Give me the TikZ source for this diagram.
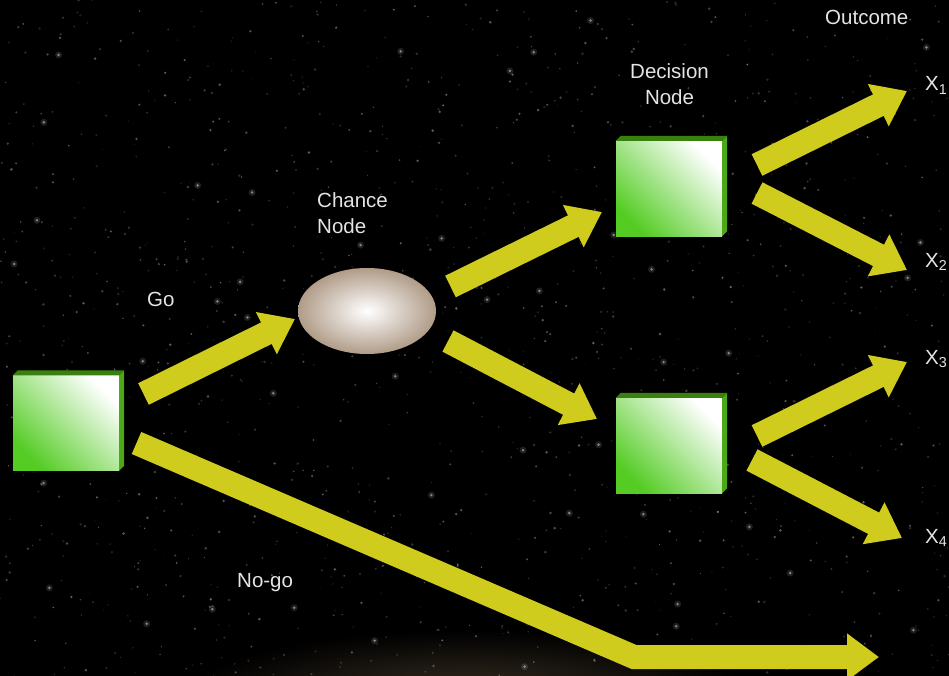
\documentclass[tikz,border=0pt]{standalone}
\usepackage{fontspec}
\setmainfont{Liberation Sans}
\usetikzlibrary{arrows.meta,shapes.geometric}

\definecolor{arrowyellow}{RGB}{208,204,30}
\definecolor{boxgreen}{RGB}{84,204,36}
\definecolor{boxmid}{RGB}{200,238,190}
\definecolor{boxtopgreen}{RGB}{58,128,14}
\definecolor{boxsidegreen}{RGB}{76,168,22}
\definecolor{chancetan}{RGB}{176,156,136}
\definecolor{labelgray}{RGB}{228,228,228}
\definecolor{galaxybrown}{RGB}{58,48,36}

\tikzset{
  lbl/.style={text=labelgray, font=\fontsize{20.5}{26}\selectfont, inner sep=0pt},
  fat/.style={line width=24pt, draw=arrowyellow, -{Triangle[length=32pt,width=45pt]}},
}

\begin{document}
\begin{tikzpicture}[x=1pt,y=-1pt,
    decision/.style={rectangle, minimum width=106pt, minimum height=95pt, inner sep=0pt,
      bottom color=boxgreen, middle color=boxmid, top color=white, shading angle=-45},
    chance/.style={ellipse, minimum width=138pt, minimum height=86pt, inner sep=0pt,
      inner color=white, outer color=chancetan},
    boxtop/.style={fill=boxtopgreen},
    boxside/.style={fill=boxsidegreen}]
    \fill[black] (0,0) rectangle (949,676);
    \useasboundingbox (0,0) rectangle (949,676);

    % sky
    \begin{scope}
    \clip (0,0) rectangle (949,676);
    \shade[inner color=galaxybrown, outer color=black] (470,700) ellipse (290 and 70);
    \pgfmathsetseed{42}
    \foreach \i in {1,...,1300}{
        \pgfmathsetmacro{\sx}{rnd*949}
        \pgfmathsetmacro{\sy}{rnd*676}
        \pgfmathsetmacro{\sr}{0.5+rnd*0.9}
        \pgfmathsetmacro{\so}{0.08+rnd*0.3}
        \fill[white, opacity=\so] (\sx,\sy) circle (\sr);
    }
    \foreach \i in {1,...,45}{
        \pgfmathsetmacro{\sx}{rnd*949}
        \pgfmathsetmacro{\sy}{rnd*676}
        \fill[white, opacity=0.12] (\sx,\sy) circle (3.5);
        \fill[white, opacity=0.45] (\sx,\sy) circle (1.4);
    }
    \end{scope}

    % nodes
    \node[decision] (start) at (66,423) {};
    \node[decision] (upper) at (669,188.5) {};
    \node[decision] (lower) at (669,445.5) {};
    \node[chance] (chance) at (367,311) {};

    \foreach \b in {start,upper,lower}{
        \fill[boxtop] (\b.north west) -- ++(5,-5) -- ([shift={(5,-5)}]\b.north east) -- (\b.north east) -- cycle;
        \fill[boxside] (\b.north east) -- ++(5,-5) -- ([shift={(5,-5)}]\b.south east) -- (\b.south east) -- cycle;
    }

    % arrow ends
    \coordinate (goS) at (143.5,394);
    \coordinate (goE) at (295,319);
    \coordinate (upS) at (450.5,286.5);
    \coordinate (upE) at (602,212);
    \coordinate (dnS) at (448,341);
    \coordinate (dnE) at (597,419);
    \coordinate (oneS) at (757,165);
    \coordinate (oneE) at (907,91);
    \coordinate (twoS) at (757,193);
    \coordinate (twoE) at (907,270);
    \coordinate (threeS) at (757,436);
    \coordinate (threeE) at (907,362);
    \coordinate (fourS) at (752,460);
    \coordinate (fourE) at (902,538);
    \coordinate (nogoS) at (136.5,443);
    \coordinate (nogoK) at (634,657);
    \coordinate (nogoE) at (879,657);

    \draw[fat] (goS) -- (goE);
    \draw[fat] (upS) -- (upE);
    \draw[fat] (dnS) -- (dnE);
    \draw[fat] (oneS) -- (oneE);
    \draw[fat] (twoS) -- (twoE);
    \draw[fat] (threeS) -- (threeE);
    \draw[fat] (fourS) -- (fourE);
    \draw[fat] (nogoS) -- (nogoK) -- (nogoE);

    % labels
    \node[lbl, anchor=base west] (outcome) at (825,25) {Outcome};
    \node[lbl, anchor=north, align=center] (declbl) at (669.5,63) {Decision\\Node};
    \node[lbl, anchor=north west, align=left] (chlbl) at (317,192) {Chance\\Node};
    \node[lbl, anchor=base west] (golbl) at (147,306) {Go};
    \node[lbl, anchor=base west] (nogolbl) at (237,587) {No-go};
    \foreach \n/\y in {1/91,2/267,3/364,4/543}
        \node[lbl, anchor=base west] (x\n) at (925,\y) {X\textsubscript{\n}};
\end{tikzpicture}
\end{document}
